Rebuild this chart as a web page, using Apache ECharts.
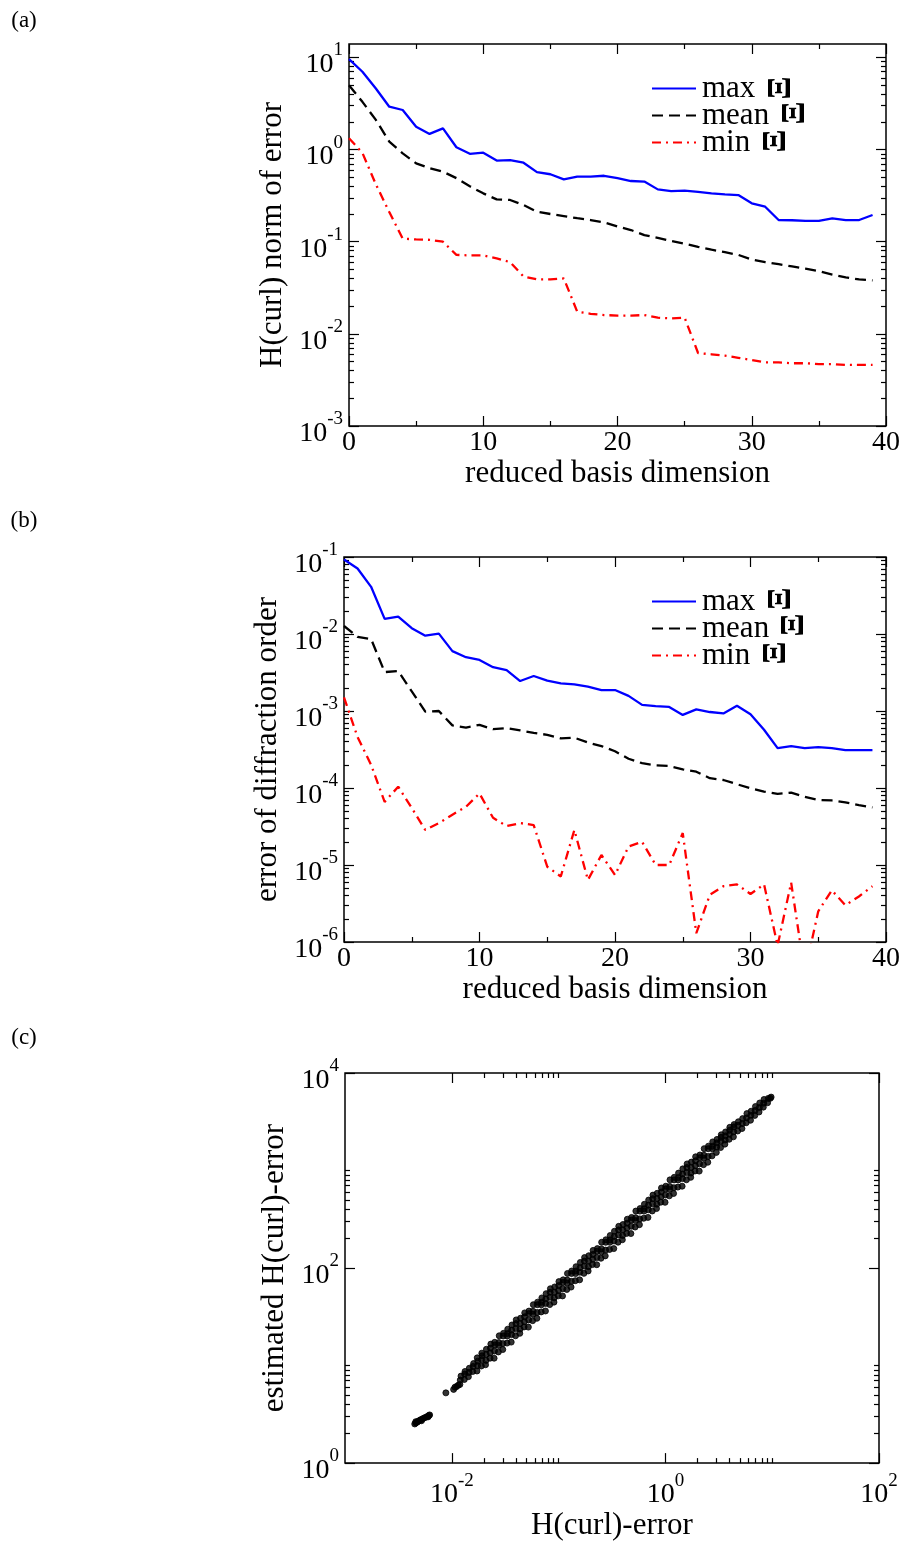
<!DOCTYPE html>
<html>
<head>
<meta charset="utf-8">
<script src="https://cdn.jsdelivr.net/npm/echarts@6/dist/echarts.min.js"></script>
<style>
  html, body { margin: 0; padding: 0; background: #fff; }
  #main { width: 907px; height: 1542px; }
</style>
</head>
<body>
<div id="main"></div>
<script>
// reduced basis dimension (x of panels a and b)
const basisDim = [0, 1, 2, 3, 4, 5, 6, 7, 8, 9, 10, 11, 12, 13, 14, 15, 16, 17, 18, 19,
  20, 21, 22, 23, 24, 25, 26, 27, 28, 29, 30, 31, 32, 33, 34, 35, 36, 37, 38, 39]

// (a) H(curl) norm of error
const aMax = [9.6, 7.0, 4.6, 2.92, 2.69, 1.77, 1.48, 1.70, 1.06, 0.90, 0.925, 0.76, 0.77, 0.72, 0.57, 0.54,
  0.475, 0.51, 0.51, 0.52, 0.49, 0.456, 0.45, 0.37, 0.355, 0.358, 0.347, 0.335, 0.327, 0.321,
  0.261, 0.24, 0.172, 0.171, 0.168, 0.168, 0.179, 0.172, 0.172, 0.195]
const aMean = [5.0, 3.3, 2.1, 1.22, 0.91, 0.71, 0.63, 0.575, 0.49, 0.40, 0.335, 0.288, 0.284, 0.25, 0.212,
  0.20, 0.19, 0.18, 0.172, 0.162, 0.146, 0.134, 0.118, 0.110, 0.102, 0.095, 0.088, 0.082, 0.077,
  0.072, 0.064, 0.060, 0.057, 0.054, 0.051, 0.048, 0.044, 0.041, 0.039, 0.038]
const aMin = [1.33, 0.92, 0.42, 0.21, 0.108, 0.106, 0.105, 0.10, 0.072, 0.071, 0.071, 0.066, 0.06, 0.042,
  0.039, 0.039, 0.04, 0.0174, 0.0165, 0.016, 0.0158, 0.0158, 0.016, 0.015, 0.0147, 0.015, 0.0062,
  0.006, 0.0058, 0.0055, 0.0052, 0.0049, 0.0049, 0.0048, 0.0048, 0.0047, 0.0047, 0.0046, 0.0046, 0.0046]

// (b) error of diffraction order
const bMax = [0.093, 0.071, 0.041, 0.0157, 0.0168, 0.0119, 0.0095, 0.0101, 0.006, 0.005, 0.0046, 0.0037,
  0.0034, 0.00245, 0.00285, 0.00248, 0.00229, 0.00222, 0.00207, 0.00187, 0.00187, 0.00157, 0.0012,
  0.00116, 0.00113, 0.00089, 0.00105, 0.00097, 0.00093, 0.00117, 0.00091, 0.00057, 0.00033, 0.00035,
  0.00033, 0.00034, 0.00033, 0.00031, 0.00031, 0.00031]
const bMean = [0.0127, 0.0092, 0.0086, 0.0032, 0.0033, 0.0018, 0.00098, 0.001, 0.00065, 0.00061, 0.00066,
  0.00058, 0.0006, 0.00056, 0.00052, 0.00049, 0.00044, 0.00045, 0.00039, 0.00035, 0.0003, 0.00024,
  0.00021, 0.000197, 0.000193, 0.000175, 0.000163, 0.000134, 0.000127, 0.000112, 0.000099, 0.00009,
  0.000084, 0.000087, 0.000077, 0.00007, 0.000069, 0.000065, 0.00006, 0.000056]
const bMin = [0.0015, 0.00046, 0.0002, 0.000066, 0.000104, 0.000055, 0.0000285, 0.000035, 0.000045,
  0.000057, 0.000085, 0.000041, 0.000032, 0.000035, 0.000033, 0.0000095, 0.0000071, 0.0000285,
  0.0000064, 0.0000135, 0.0000074, 0.0000174, 0.00002, 0.00001, 0.00001, 0.000026, 0.0000013,
  0.0000041, 0.0000053, 0.0000056, 0.0000042, 0.0000056, 0.0000009, 0.0000059, 0.0000004,
  0.0000025, 0.0000047, 0.000003, 0.0000039, 0.0000053]

// (c) [H(curl)-error, estimated H(curl)-error]
const scatterPoints = [
  [0.0045, 2.52], [0.0046, 2.58], [0.0046, 2.66], [0.0047, 2.62], [0.0048, 2.66], [0.0049, 2.7],
  [0.005, 2.74], [0.0051, 2.78], [0.0052, 2.72], [0.0053, 2.84], [0.0055, 2.9], [0.0057, 2.95],
  [0.0059, 3.0], [0.006, 2.98], [0.0061, 3.08], [0.0062, 3.12],
  [0.0088, 5.25], [0.0104, 5.7], [0.0107, 6.0], [0.0111, 6.1], [0.0115, 6.3],
  [0.0119, 6.4], [0.0120, 7.1], [0.0122, 7.8], [0.0131, 7.2], [0.0132, 8.2], [0.0133, 8.7],
  [0.0143, 7.7], [0.0145, 8.5], [0.0146, 9.4], [0.0157, 8.7], [0.0158, 9.8], [0.0160, 10.5],
  [0.0172, 8.8], [0.0174, 10.0], [0.0175, 11.1], [0.0173, 12.0],
  [0.0189, 9.9], [0.0190, 11.5], [0.0192, 12.6], [0.0191, 13.4],
  [0.0207, 10.2], [0.0209, 11.3], [0.0210, 13.0], [0.0211, 14.7],
  [0.0228, 11.9], [0.0229, 13.5], [0.0230, 15.1], [0.0232, 16.6],
  [0.0249, 11.9], [0.0251, 14.1], [0.0253, 16.3], [0.0252, 17.3],
  [0.0273, 13.8], [0.0275, 16.1], [0.0276, 17.2], [0.0278, 20.2],
  [0.0300, 14.6], [0.0301, 16.8], [0.0303, 20.1], [0.0305, 21.4],
  [0.0329, 17.0], [0.0331, 20.1], [0.0332, 21.3], [0.0334, 23.6],
  [0.0360, 17.4], [0.0363, 20.8], [0.0364, 23.1], [0.0366, 26.1],
  [0.0395, 20.2], [0.0397, 24.0], [0.0399, 27.0], [0.0401, 29.4],
  [0.0433, 21.4], [0.0436, 23.7], [0.0437, 27.0], [0.0440, 30.6],
  [0.0475, 24.9], [0.0478, 28.2], [0.0480, 31.6], [0.0482, 34.7],
  [0.0521, 24.8], [0.0524, 29.4], [0.0526, 34.1], [0.0528, 36.2],
  [0.0571, 28.9], [0.0575, 33.6], [0.0577, 36.0], [0.0580, 42.1],
  [0.0626, 30.5], [0.0630, 35.0], [0.0633, 42.1], [0.0636, 44.7],
  [0.0687, 35.5], [0.0691, 42.0], [0.0693, 44.5], [0.0697, 49.4],
  [0.0753, 36.3], [0.0758, 43.4], [0.0760, 48.3], [0.0764, 54.6],
  [0.0826, 42.2], [0.0831, 50.1], [0.0834, 56.4], [0.0838, 61.4],
  [0.0905, 44.7], [0.0911, 49.5], [0.0914, 56.5], [0.0919, 64.0],
  [0.0993, 51.9], [0.0999, 59.0], [0.1003, 66.1], [0.1007, 72.6],
  [0.1088, 51.8], [0.1095, 61.5], [0.1099, 71.2], [0.1104, 75.7],
  [0.1193, 60.3], [0.1201, 70.2], [0.1205, 75.2], [0.1211, 88.0],
  [0.1308, 63.8], [0.1317, 73.1], [0.1322, 87.9], [0.1328, 93.3],
  [0.1434, 74.2], [0.1444, 87.8], [0.1449, 93.0], [0.1456, 103.2],
  [0.1573, 75.7], [0.1584, 90.7], [0.1589, 101.0], [0.1597, 114.1],
  [0.1725, 88.2], [0.1737, 104.6], [0.1743, 117.9], [0.1751, 128.1],
  [0.1891, 93.3], [0.1904, 103.4], [0.191, 118.0], [0.1919, 133.8],
  [0.2073, 108.5], [0.2088, 123.3], [0.2095, 138.1], [0.2105, 151.7],
  [0.2274, 108.2], [0.229, 128.4], [0.2297, 148.7], [0.2308, 158.2],
  [0.2493, 126.0], [0.2511, 146.7], [0.2519, 157.1], [0.2531, 183.8],
  [0.2733, 133.3], [0.2753, 152.8], [0.2762, 183.6], [0.2775, 195.0],
  [0.2997, 155.0], [0.3019, 183.5], [0.3029, 194.2], [0.3043, 215.6],
  [0.3286, 158.3], [0.331, 189.5], [0.3321, 211.0], [0.3336, 238.4],
  [0.3604, 184.2], [0.363, 218.5], [0.3642, 246.3], [0.3659, 267.8],
  [0.3951, 195.0], [0.398, 216.1], [0.3993, 246.6], [0.4011, 279.5],
  [0.4332, 226.6], [0.4364, 257.5], [0.4378, 288.4], [0.4398, 316.7],
  [0.475, 225.9], [0.4785, 268.3], [0.4801, 310.6], [0.4822, 330.4],
  [0.5208, 263.2], [0.5247, 306.5], [0.5264, 328.2], [0.5288, 383.9],
  [0.5711, 278.4], [0.5753, 319.1], [0.5772, 383.6], [0.5798, 407.4],
  [0.6262, 323.9], [0.6309, 383.5], [0.633, 405.8], [0.6358, 450.5],
  [0.6866, 330.6], [0.6917, 396.0], [0.694, 440.9], [0.697, 498.0],
  [0.7529, 384.9], [0.7585, 456.6], [0.761, 514.7], [0.7644, 559.5],
  [0.8255, 407.4], [0.8317, 451.5], [0.8345, 515.3], [0.8381, 584.1],
  [0.9051, 473.5], [0.9119, 538.1], [0.915, 602.7], [0.9189, 661.9],
  [0.9925, 472], [0.9999, 560.5], [1.003, 649], [1.008, 690.3],
  [1.088, 549.9], [1.096, 640.4], [1.1, 685.7], [1.104, 802.2],
  [1.193, 581.6], [1.202, 666.7], [1.206, 801.5], [1.211, 851.2],
  [1.308, 676.7], [1.318, 801.1], [1.322, 847.8], [1.328, 941.1],
  [1.434, 690.8], [1.445, 827.2], [1.45, 921.0], [1.456, 1040],
  [1.573, 804.2], [1.585, 953.8], [1.59, 1075], [1.597, 1169],
  [1.725, 850.8], [1.738, 943.0], [1.743, 1076], [1.751, 1220],
  [1.891, 989.1], [1.905, 1124], [1.911, 1259], [1.919, 1383],
  [2.073, 986.4], [2.089, 1171], [2.095, 1356], [2.105, 1443],
  [2.274, 1149], [2.291, 1338], [2.298, 1433], [2.308, 1676],
  [2.493, 1215], [2.512, 1393], [2.52, 1675], [2.531, 1778],
  [2.733, 1414], [2.754, 1674], [2.763, 1771], [2.775, 1966],
  [2.997, 1533], [3.02, 1746], [3.029, 1925], [3.043, 2085],
  [3.286, 1720], [3.311, 1993], [3.321, 2188], [3.336, 2325],
  [3.604, 1864], [3.631, 2056], [3.642, 2271], [3.659, 2485],
  [3.951, 2091], [3.981, 2349], [3.993, 2584], [4.011, 2772],
  [4.332, 2215], [4.365, 2498], [4.378, 2807], [4.398, 2961],
  [4.75, 2542], [4.786, 2909], [4.822, 3163],
  [5.208, 2694], [5.248, 3034], [5.288, 3406],
  [5.711, 3089], [5.754, 3463], [5.798, 3836],
  [6.262, 3276], [6.31, 3686], [6.358, 4058],
  [6.866, 3674], [6.918, 4123], [6.97, 4531],
  [7.529, 3984], [7.586, 4431], [7.644, 4924],
  [8.255, 4466], [8.318, 4908], [8.381, 5350],
  [9.051, 4951], [9.189, 5489], [9.6, 5500], [9.77, 5660]
]

// tick labels
const dimTicks = [0, 10, 20, 30, 40]
const aYTicks = [1e-3, 1e-2, 1e-1, 1, 10]
const bYTicks = [1e-6, 1e-5, 1e-4, 1e-3, 1e-2, 1e-1]
const cXTicks = [1e-2, 1, 100]
const cYTicks = [1, 100, 10000]

const SERIF = '"Liberation Serif", "Times New Roman", Times, serif'

// minor tick positions: every multiplier in each decade
function decadeTicks(e0, e1, mults) {
  const out = []
  for (let e = e0; e <= e1; e++) {
    mults.forEach(m => out.push(Number((m * Math.pow(10, e)).toPrecision(6))))
  }
  return out
}
const M2to9 = [2, 3, 4, 5, 6, 7, 8, 9]
const M2to10 = [2, 3, 4, 5, 6, 7, 8, 9, 10]

/** 10^n labels with a raised exponent */
function powLabel(v) {
  const e = Math.round(Math.log10(v))
  return '{b|10}{s|' + e + '}'
}
const powRich = {
  b: { fontFamily: SERIF, fontSize: 28, lineHeight: 38, verticalAlign: 'bottom', color: '#000' },
  s: { fontFamily: SERIF, fontSize: 19, lineHeight: 19, verticalAlign: 'top', color: '#000' }
}

/**
 * 4 axes for one dimension of a panel: labelled major, minor, mirrored major, mirrored minor
 */
function makeAxes(dim, gridIndex, cfg) {
  const sides = dim === 'x' ? ['bottom', 'top'] : ['left', 'right']
  const list = []
  sides.forEach((pos, sideIdx) => {
    [true, false].forEach(isMajor => {
      const withLabel = sideIdx === 0 && isMajor
      list.push({
        gridIndex,
        type: cfg.type,
        logBase: 10,
        position: pos,
        min: cfg.min,
        max: cfg.max,
        name: withLabel ? cfg.name : '',
        nameLocation: 'middle',
        nameGap: cfg.nameGap,
        nameTextStyle: { fontFamily: SERIF, fontSize: 31, color: '#000' },
        axisLine: { show: false, onZero: false },
        splitLine: { show: false },
        minorTick: { show: false },
        axisTick: {
          show: true,
          inside: true,
          length: isMajor ? 10 : 5,
          customValues: isMajor ? cfg.major : cfg.minor,
          lineStyle: { color: '#000', width: 1.2 }
        },
        axisLabel: withLabel ? {
          show: true,
          customValues: cfg.labels,
          formatter: cfg.formatter,
          rich: powRich,
          fontFamily: SERIF,
          fontSize: 28,
          color: '#000',
          margin: cfg.margin,
          padding: cfg.padding || 0
        } : { show: false }
      })
    })
  })
  return list
}

function lineSeries(name, values, panel, color, dash) {
  return {
    name,
    type: 'line',
    xAxisIndex: panel * 4,
    yAxisIndex: panel * 4,
    data: basisDim.map((d, i) => [d, values[i]]),
    symbol: 'none',
    showSymbol: false,
    clip: true,
    silent: true,
    lineStyle: { color, width: 2.3, type: dash },
    itemStyle: { color }
  }
}

const dimAxis = (g) => makeAxes('x', g, {
  type: 'value', min: 0, max: 40, major: dimTicks, minor: [5, 15, 25, 35], labels: dimTicks,
  formatter: '{value}', name: 'reduced basis dimension', nameGap: 20, margin: 3
})

const xAxis = [
  ...dimAxis(0),
  ...dimAxis(1),
  ...makeAxes('x', 2, {
    type: 'log', min: 1e-3, max: 100, major: cXTicks,
    minor: decadeTicks(-2, -2, M2to10).concat(decadeTicks(0, 0, M2to10)),
    labels: cXTicks, formatter: powLabel, name: 'H(curl)-error', nameGap: 40, margin: 8
  })
]
const yAxis = [
  ...makeAxes('y', 0, {
    type: 'log', min: 1e-3, max: 14, major: aYTicks, minor: decadeTicks(-3, 0, M2to9),
    labels: aYTicks, formatter: powLabel, name: 'H(curl) norm of error', nameGap: 60,
    margin: 6, padding: [5, 0, 0, 0]
  }),
  ...makeAxes('y', 1, {
    type: 'log', min: 1e-6, max: 1e-1, major: bYTicks, minor: decadeTicks(-6, -2, M2to9),
    labels: bYTicks, formatter: powLabel, name: 'error of diffraction order', nameGap: 55,
    margin: 6, padding: [5, 0, 0, 0]
  }),
  ...makeAxes('y', 2, {
    type: 'log', min: 1, max: 10000, major: cYTicks,
    minor: decadeTicks(0, 0, M2to10).concat(decadeTicks(2, 2, M2to10)),
    labels: cYTicks, formatter: powLabel, name: 'estimated H(curl)-error', nameGap: 55,
    margin: 6, padding: [5, 0, 0, 0]
  })
]

const gridStyle = { show: true, borderColor: '#000', borderWidth: 1.5, backgroundColor: 'transparent', containLabel: false }

const legendBase = {
  orient: 'vertical',
  left: 646,
  itemWidth: 44,
  itemHeight: 14,
  itemGap: -4,
  selectedMode: false,
  data: ['max', 'mean', 'min'],
  itemStyle: { opacity: 0 },
  textStyle: { fontFamily: SERIF, fontSize: 31, color: '#000', lineHeight: 27, padding: [0, 0, 0, 1] }
}

const xiText = (x, y) => ({
  type: 'text',
  x,
  y,
  rotation: Math.PI / 2,
  silent: true,
  style: {
    text: '\u039E', fontSize: 34, fontWeight: 'bold', fontFamily: SERIF,
    fill: '#000', align: 'center', verticalAlign: 'middle'
  }
})
const panelText = (txt, y) => ({
  type: 'text',
  x: 24,
  y,
  silent: true,
  style: { text: txt, fontSize: 23, fontFamily: SERIF, fill: '#000', align: 'center', verticalAlign: 'middle' }
})

const chart = echarts.init(document.getElementById('main'))
chart.setOption({
  animation: false,
  backgroundColor: '#fff',
  grid: [
    { ...gridStyle, left: 349, top: 44, width: 537, height: 382 },
    { ...gridStyle, left: 344, top: 557, width: 542, height: 385 },
    { ...gridStyle, left: 345, top: 1073, width: 534, height: 394 }
  ],
  xAxis,
  yAxis,
  legend: [
    { ...legendBase, top: 68 },
    { ...legendBase, top: 581 }
  ],
  graphic: [
    panelText('(a)', 21),
    panelText('(b)', 521),
    panelText('(c)', 1038),
    xiText(781, 88), xiText(795, 113), xiText(776, 141),
    xiText(781, 599), xiText(794, 625), xiText(776, 653)
  ],
  series: [
    lineSeries('max', aMax, 0, '#0000ff', 'solid'),
    lineSeries('mean', aMean, 0, '#000000', [11, 6]),
    lineSeries('min', aMin, 0, '#ff0000', [9, 5, 2, 5]),
    lineSeries('max', bMax, 1, '#0000ff', 'solid'),
    lineSeries('mean', bMean, 1, '#000000', [11, 6]),
    lineSeries('min', bMin, 1, '#ff0000', [9, 5, 2, 5]),
    {
      type: 'scatter',
      xAxisIndex: 8,
      yAxisIndex: 8,
      data: scatterPoints,
      symbol: 'circle',
      symbolSize: 6,
      silent: true,
      itemStyle: { color: '#000', borderColor: '#000', borderWidth: 1 }
    }
  ]
})
</script>
</body>
</html>
